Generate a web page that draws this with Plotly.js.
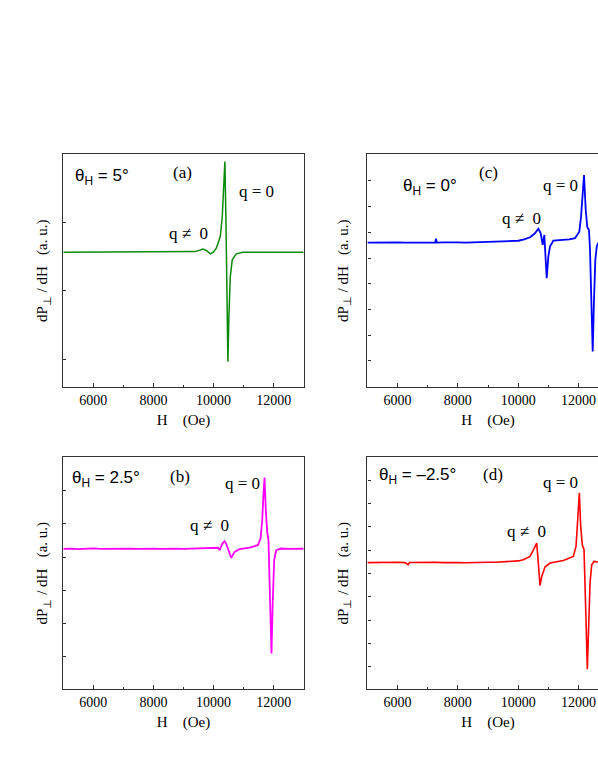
<!DOCTYPE html>
<html>
<head>
<meta charset="utf-8">
<script src="https://cdn.plot.ly/plotly-3.0.1.min.js"></script>
<style>
    html, body { margin: 0; padding: 0; overflow: hidden; background: #fff; }
    #fmr-chart { width: 620px; height: 774px; }
</style>
</head>
<body>
<div id="fmr-chart"></div>
<script>
(function () {
    'use strict';

    // field values (Oe) and derivative signal (a. u.)
    var hA = [5000, 7000, 9000, 9400, 9648, 9780, 9893, 10000, 10092, 10225, 10291, 10335, 10378,
        10411, 10434, 10457, 10478, 10511, 10557, 10623, 10756, 10976, 11500, 13000];
    var yA = [1.564, 1.564, 1.566, 1.575, 1.611, 1.585, 1.542, 1.570, 1.625, 1.795, 2.088, 2.479, 2.893,
        2.088, 1.356, 0.381, -0.035, 0.624, 1.209, 1.454, 1.542, 1.567, 1.564, 1.564];

    var hB = [5000, 5250, 5500, 5750, 6000, 6250, 6500, 6750, 7000, 7250, 7500, 7750, 8000, 8250, 8500,
        8750, 9000, 9250, 9500, 9750, 10000, 10092, 10150, 10202, 10290, 10368, 10420, 10478, 10589,
        10700, 10866, 11198, 11400, 11474, 11564, 11620, 11663, 11697, 11740, 11786, 11829, 11862,
        11896, 11929, 11972, 12018, 12085, 12251, 12500, 12750, 13000];
    var yB = [3.245, 3.255, 3.24, 3.25, 3.26, 3.245, 3.25, 3.24, 3.255, 3.25, 3.245, 3.255, 3.25, 3.245, 3.255,
        3.25, 3.245, 3.255, 3.25, 3.26, 3.27, 3.29, 3.28, 3.205, 3.40, 3.478, 3.40, 3.257, 2.973,
        3.154, 3.236, 3.287, 3.33, 3.357, 3.559, 4.113, 4.920, 5.404, 4.415, 3.759, 3.508, 2.601,
        1.188, 0.082, 1.693, 2.903, 3.205, 3.257, 3.245, 3.255, 3.25];

    var hC = [5000, 5250, 5500, 5750, 6000, 6250, 6500, 6750, 7000, 7250, 7276, 7300, 7500, 7750, 8000,
        8250, 8500, 8750, 9000, 9250, 9500, 9750, 10000, 10200, 10394, 10550, 10670, 10748, 10814,
        10868, 10902, 10947, 11001, 11057, 11167, 11499, 11700, 11886, 12029, 12086, 12142, 12185,
        12241, 12294, 12350, 12384, 12427, 12473, 12516, 12560, 12606, 12650, 12800, 13000];
    var yC = [4.595, 4.605, 4.59, 4.60, 4.61, 4.595, 4.60, 4.59, 4.605, 4.60, 4.75, 4.60, 4.61, 4.595, 4.605,
        4.60, 4.61, 4.60, 4.62, 4.615, 4.63, 4.65, 4.67, 4.72, 4.806, 4.95, 5.140, 4.961, 4.508,
        4.895, 4.314, 3.217, 4.054, 4.442, 4.674, 4.702, 4.72, 4.767, 5.023, 5.605, 6.767, 7.221,
        5.864, 5.194, 5.089, 4.314, 2.376, 0.372, 2.376, 3.926, 4.442, 4.574, 4.60, 4.60];

    var hD = [5000, 5250, 5500, 5750, 6000, 6250, 6347, 6400, 6500, 6750, 7000, 7250, 7500, 7750, 8000,
        8250, 8500, 8750, 9000, 9250, 9500, 9750, 10000, 10171, 10394, 10536, 10616, 10669, 10725,
        10782, 10891, 11057, 11498, 11830, 11919, 11962, 12009, 12029, 12075, 12128, 12185, 12218,
        12251, 12294, 12340, 12384, 12440, 12516, 12750, 13000];
    var yD = [4.465, 4.475, 4.46, 4.47, 4.48, 4.465, 4.38, 4.47, 4.475, 4.465, 4.47, 4.48, 4.465, 4.475, 4.47,
        4.46, 4.475, 4.47, 4.48, 4.48, 4.49, 4.51, 4.54, 4.589, 4.731, 5.092, 5.308, 4.447, 3.484,
        3.871, 4.275, 4.447, 4.559, 4.731, 5.161, 6.022, 7.312, 7.458, 6.022, 5.234, 5.019, 3.871,
        2.009, -0.112, 2.009, 3.587, 4.374, 4.516, 4.475, 4.47];

    var serif = 'Liberation Serif, Times New Roman, serif';
    var sans = 'Liberation Sans, Arial, sans-serif';

    var panels = [
        {id: '', hs: hA, ys: yA, color: '#0a8a0a', width: 1.5, xdom: [0.1021, 0.4898], ydom: [0.5, 0.8004],
            yrange: [-0.406, 2.996], letter: '(a)', angle: '5°', standoff: 10,
            pos: {theta: [5322, 2.674], letter: [8974, 2.728], qn: [9173, 1.835], q0: [11431, 2.454]}},
        {id: '2', hs: hC, ys: yC, color: '#0000ff', width: 1.8, xdom: [0.5926, 0.9816], ydom: [0.5, 0.8004],
            yrange: [-1.01, 8.02], letter: '(c)', angle: '0°', standoff: 14,
            pos: {theta: [6105, 6.767], letter: [9033, 7.326], qn: [10095, 5.543], q0: [11405, 6.833]}},
        {id: '3', hs: hB, ys: yB, color: '#ff00ff', width: 1.8, xdom: [0.1021, 0.4898], ydom: [0.1094, 0.4096],
            yrange: [-1.007, 6.03], letter: '(b)', angle: '2.5°', standoff: 10,
            pos: {theta: [5222, 5.373], letter: [8874, 5.443], qn: [9870, 3.961], q0: [10949, 5.222]}},
        {id: '4', hs: hD, ys: yD, color: '#ff0000', width: 1.6, xdom: [0.5926, 0.9816], ydom: [0.1094, 0.4096],
            yrange: [-0.97, 9.0], letter: '(d)', angle: '\u20132.5°', standoff: 14,
            pos: {theta: [5308, 8.172], letter: [9156, 8.245], qn: [10261, 5.806], q0: [11389, 7.888]}}
    ];

    var data = [];
    var annotations = [];
    var layout = {
        width: 620,
        height: 774,
        margin: {l: 0, r: 0, t: 0, b: 0},
        paper_bgcolor: '#ffffff',
        plot_bgcolor: '#ffffff',
        showlegend: false,
        hovermode: false,
        font: {family: serif, size: 15, color: '#000'}
    };

    panels.forEach(function (p) {
        var xname = 'x' + p.id;
        var yname = 'y' + p.id;

        data.push({
            x: p.hs,
            y: p.ys,
            xaxis: xname,
            yaxis: yname,
            mode: 'lines',
            line: {color: p.color, width: p.width},
            hoverinfo: 'skip'
        });

        layout['xaxis' + p.id] = {
            domain: p.xdom,
            anchor: yname,
            range: [5000, 13000],
            tick0: 0,
            dtick: 2000,
            tickformat: 'd',
            ticks: 'inside',
            ticklen: 4,
            tickcolor: '#333',
            minor: {dtick: 1000, ticks: 'inside', ticklen: 2, tickcolor: '#333'},
            showgrid: false,
            zeroline: false,
            showline: true,
            mirror: true,
            linecolor: '#333',
            linewidth: 1.2,
            tickfont: {family: serif, size: 14, color: '#000'},
            title: {text: 'H\u00a0\u00a0\u00a0\u00a0(Oe)', font: {family: serif, size: 15, color: '#000'}, standoff: 7}
        };

        layout['yaxis' + p.id] = {
            domain: p.ydom,
            anchor: xname,
            range: p.yrange,
            tick0: 0,
            dtick: 1,
            ticks: 'inside',
            ticklen: 3,
            tickcolor: '#333',
            showticklabels: false,
            showgrid: false,
            zeroline: false,
            showline: true,
            mirror: true,
            linecolor: '#333',
            linewidth: 1.2,
            title: {
                text: 'dP<sub>\u22a5</sub> / dH\u00a0\u00a0\u00a0(a. u.)',
                font: {family: serif, size: 15, color: '#000'},
                standoff: p.standoff
            }
        };

        annotations.push(
            {xref: xname, yref: yname, x: p.pos.theta[0], y: p.pos.theta[1], xanchor: 'left', yanchor: 'middle',
                text: '\u03b8<sub>H</sub> = ' + p.angle, showarrow: false,
                font: {family: sans, size: 17, color: '#000'}},
            {xref: xname, yref: yname, x: p.pos.letter[0], y: p.pos.letter[1], xanchor: 'center', yanchor: 'middle',
                text: p.letter, showarrow: false, font: {family: serif, size: 17, color: '#000'}},
            {xref: xname, yref: yname, x: p.pos.qn[0], y: p.pos.qn[1], xanchor: 'center', yanchor: 'middle',
                text: 'q \u2260\u00a0 0', showarrow: false, font: {family: serif, size: 17, color: '#000'}},
            {xref: xname, yref: yname, x: p.pos.q0[0], y: p.pos.q0[1], xanchor: 'center', yanchor: 'middle',
                text: 'q = 0', showarrow: false, font: {family: serif, size: 17, color: '#000'}}
        );
    });

    layout.annotations = annotations;

    Plotly.newPlot('fmr-chart', data, layout, {displayModeBar: false});
})();
</script>
</body>
</html>
